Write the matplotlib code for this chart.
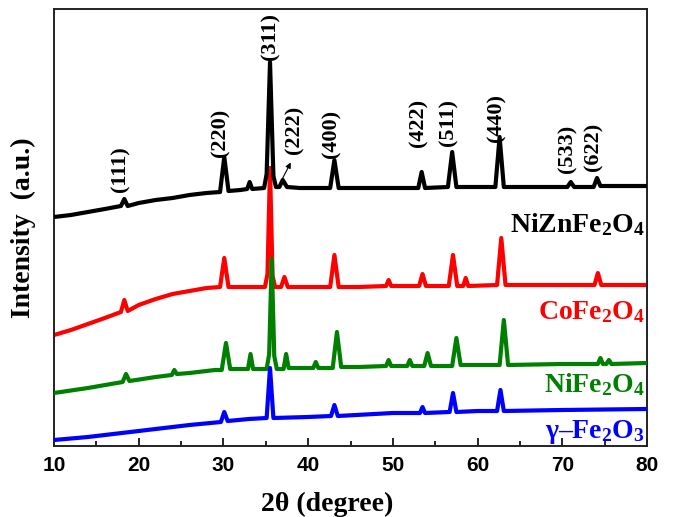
import matplotlib
matplotlib.use("Agg")
import matplotlib.pyplot as plt
from matplotlib.ticker import MultipleLocator

plt.rcParams['mathtext.fontset'] = 'custom'
plt.rcParams['mathtext.rm'] = 'Liberation Serif:bold'
plt.rcParams['mathtext.it'] = 'Liberation Serif:bold'
plt.rcParams['mathtext.bf'] = 'Liberation Serif:bold'

# ---------------- data (2theta in degree, intensity in a.u.) ----------------
x_nizn = [10, 12, 14, 16, 17.9, 18.3, 18.7, 20, 22, 24, 26, 28, 29.6, 30.1, 30.6, 32,
          32.8, 33.1, 33.4, 34.8, 35.1, 35.5, 35.9, 36.2, 36.6, 37.0, 37.5, 39, 42.6,
          43.1, 43.6, 46, 50, 53.0, 53.4, 53.8, 56.5, 57.0, 57.5, 60, 62.1, 62.6, 63.1,
          66, 70.6, 71.0, 71.4, 73.7, 74.1, 74.5, 77, 80]
y_nizn = [229, 231, 234, 237, 240, 247, 240, 243, 246, 248, 251, 253, 254, 289, 255, 256,
          257, 264, 257, 258, 272, 384, 270, 259, 259, 266, 259, 258, 258,
          286, 258, 258, 258, 258, 274, 258, 259, 294, 259, 259, 259, 309, 259,
          259, 259, 264, 259, 259, 268, 260, 260, 260]

x_co = [10, 12, 14, 16, 17.9, 18.3, 18.7, 20, 22, 24, 26, 28, 29.6, 30.1, 30.6, 33,
        34.9, 35.2, 35.5, 35.8, 36.1, 36.8, 37.2, 37.6, 40, 42.6, 43.1, 43.6, 46,
        49.2, 49.5, 49.8, 53.1, 53.5, 53.9, 56.6, 57.1, 57.6, 58.3, 58.6, 58.9,
        62.3, 62.8, 63.3, 67, 73.8, 74.2, 74.6, 80]
y_co = [111, 116, 122, 128, 134, 146, 135, 141, 147, 152, 155, 158, 159, 188, 159, 159,
        159, 172, 278, 170, 159, 159, 169, 159, 159, 159, 191, 159, 159,
        160, 166, 160, 160, 172, 160, 160, 191, 160, 160, 168, 160,
        161, 208, 161, 161, 161, 173, 161, 161]

x_ni = [10, 14, 18.1, 18.5, 18.9, 22, 23.9, 24.2, 24.5, 26, 29, 29.8, 30.3, 30.8, 32.9,
        33.2, 33.5, 35.1, 35.4, 35.7, 36.0, 36.3, 37.1, 37.4, 37.7, 40.6, 40.9, 41.2,
        42.9, 43.4, 43.9, 46, 49.2, 49.5, 49.8, 51.7, 52.0, 52.3, 53.7, 54.1, 54.5,
        57.0, 57.5, 58.0, 60, 62.6, 63.1, 63.6, 70, 74.2, 74.5, 74.8, 75.2, 75.5, 75.8, 80]
y_ni = [53, 58, 64, 72, 65, 69, 71, 76, 72, 73, 76, 76, 103, 77, 77,
        92, 77, 77, 92, 187, 90, 77, 77, 92, 78, 78, 84, 78,
        78, 114, 79, 79, 80, 86, 80, 80, 86, 80, 80, 93, 80,
        80, 108, 81, 81, 81, 126, 81, 82, 82, 88, 82, 82, 86, 82, 83]

x_g = [10, 14, 18, 22, 26, 29.7, 30.1, 30.5, 33, 35.1, 35.5, 35.9, 40, 42.7, 43.1, 43.5,
       50, 53.2, 53.5, 53.8, 56.7, 57.1, 57.5, 60, 62.3, 62.7, 63.1, 70, 80]
y_g = [6, 9, 13, 17, 21, 24, 34, 25, 27, 28, 78, 28, 29, 30, 41, 30,
       33, 33, 39, 33, 34, 53, 34, 35, 35, 56, 35, 36, 37]

peak_x = [18.3, 30.1, 35.5, 37.2, 43.1, 53.4, 57.0, 62.6, 71.0, 74.1]
peak_hkl = ['(111)', '(220)', '(311)', '(222)', '(400)', '(422)', '(511)', '(440)',
            '(533)', '(622)']
label_y = [277, 313, 409, 316, 312, 323, 324, 328, 297, 299]

names = ['NiZnFe$_2$O$_4$', 'CoFe$_2$O$_4$', 'NiFe$_2$O$_4$', '\u03b3\u2013Fe$_2$O$_3$']
colors = ['black', '#ff0000', '#008000', '#0000ff']
name_y = [214, 127, 54, 8]

# ---------------- figure ----------------
fig = plt.figure(figsize=(6.74, 5.17), dpi=100)
ax = fig.add_axes([54 / 674, 1 - 446 / 517, 593 / 674, 437 / 517])

lw = 3.0
ax.plot(x_co, y_co, color=colors[1], lw=lw, zorder=2, solid_joinstyle='round')
ax.plot(x_ni, y_ni, color=colors[2], lw=lw, zorder=3, solid_joinstyle='round')
ax.plot(x_g, y_g, color=colors[3], lw=lw, zorder=4, solid_joinstyle='round')
ax.plot(x_nizn, y_nizn, color=colors[0], lw=lw, zorder=5, solid_joinstyle='round')

ax.set_xlim(10, 80)
ax.set_ylim(0, 437)

serif_b = dict(family='Liberation Serif', weight='bold')
for px, lab, ly in zip(peak_x, peak_hkl, label_y):
    if lab == '(222)':
        ax.text(38.4, ly, lab, rotation=90, ha='center', va='center', fontsize=16,
                zorder=6, **serif_b)
        ax.annotate('', xy=(38.1, 286), xytext=(36.7, 263),
                    arrowprops=dict(arrowstyle='-|>', color='black', lw=0.8,
                                    mutation_scale=8), zorder=6)
    else:
        ax.text(px - 0.4 if lab != '(311)' else px, ly, lab, rotation=90, ha='center',
                va='center', fontsize=16, zorder=6, **serif_b)

for nm, c, ny in zip(names, colors, name_y):
    ax.text(0.997, ny, nm, transform=ax.get_yaxis_transform(), ha='right', va='baseline',
            color=c, fontsize=20, zorder=6, **serif_b)

ax.set_yticks([])
ax.xaxis.set_major_locator(MultipleLocator(10))
ax.xaxis.set_minor_locator(MultipleLocator(5))
ax.tick_params(axis='x', which='major', direction='in', length=6, width=1.2, pad=7,
               labelsize=15)
ax.tick_params(axis='x', which='minor', direction='in', length=3.5, width=1.2)
for lab in ax.get_xticklabels():
    lab.set_fontfamily('Liberation Sans')
    lab.set_fontweight('bold')
for s in ax.spines.values():
    s.set_linewidth(1.4)
    s.set_color('#222222')

ax.set_xlabel('2\u03b8 (degree)', fontsize=20, labelpad=2, **serif_b)
ax.xaxis.set_label_coords((327 - 54) / 593, -0.105)
ax.set_ylabel('Intensity  (a.u.)', fontsize=20, **serif_b)
ax.yaxis.set_label_coords(-0.03, 0.5)

fig.savefig('out.png', dpi=100)
